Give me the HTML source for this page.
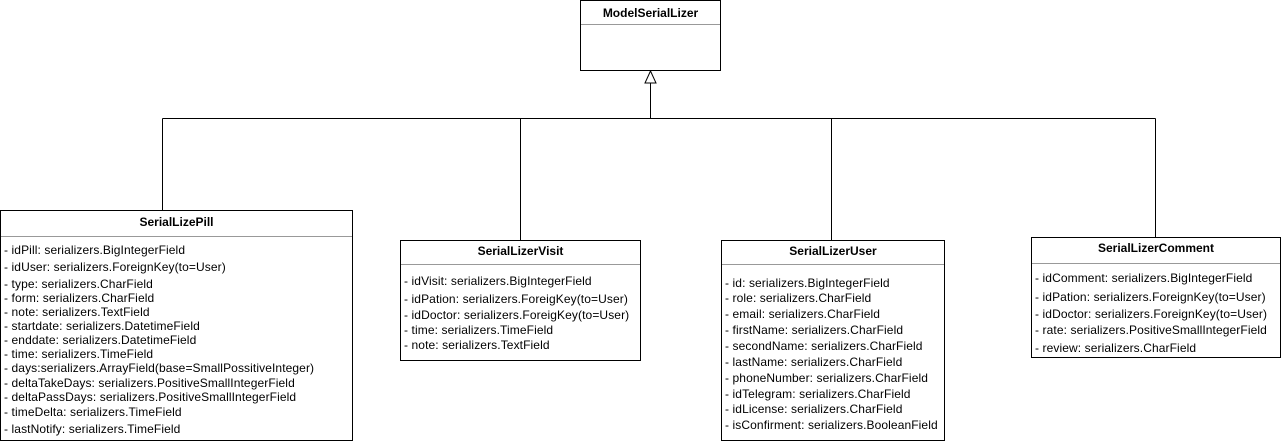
<!DOCTYPE html>
<html><head><meta charset="utf-8"><style>
body{margin:0;width:1281px;height:441px;background:#fff;position:relative;overflow:hidden;font-family:"Liberation Sans",Arial,sans-serif;font-size:12px;color:#000}
.b{position:absolute;border:1px solid #000;box-sizing:border-box;background:#fff}
.h{position:absolute;left:0;right:0;text-align:center;font-weight:bold;font-size:12px}
.s{position:absolute;left:0;right:0;border-top:1px solid #999}
.t{position:absolute;left:3px;white-space:nowrap;line-height:14px;letter-spacing:0.1px}
svg{position:absolute;left:0;top:0}
</style></head><body>
<svg width="1281" height="441">
<g stroke="#000" stroke-width="1" fill="none">
<line x1="650.5" y1="83" x2="650.5" y2="118.5"/>
<line x1="162.5" y1="118.5" x2="1155.5" y2="118.5"/>
<line x1="162.5" y1="118.5" x2="162.5" y2="210"/>
<line x1="520.5" y1="118.5" x2="520.5" y2="240"/>
<line x1="831.5" y1="118.5" x2="831.5" y2="240"/>
<line x1="1155.5" y1="118.5" x2="1155.5" y2="237"/>
<polygon points="650.5,71 645,83 656,83" fill="#fff"/>
</g></svg>

<div class="b" style="left:580px;top:0;width:141px;height:71px">
<div class="h" style="top:5px">ModelSerialLizer</div><div class="s" style="top:23px"></div></div>

<div class="b" style="left:0;top:210px;width:353px;height:231px">
<div class="h" style="top:4px">SerialLizePill</div><div class="s" style="top:25px"></div>
<div class="t" style="top:32px">- idPill: serializers.BigIntegerField</div>
<div class="t" style="top:49px">- idUser: serializers.ForeignKey(to=User)</div>
<div class="t" style="top:66px">- type: serializers.CharField</div>
<div class="t" style="top:80px">- form: serializers.CharField</div>
<div class="t" style="top:94px">- note: serializers.TextField</div>
<div class="t" style="top:108px">- startdate: serializers.DatetimeField</div>
<div class="t" style="top:122px">- enddate: serializers.DatetimeField</div>
<div class="t" style="top:136px">- time: serializers.TimeField</div>
<div class="t" style="top:150px">- days:serializers.ArrayField(base=SmallPossitiveInteger)</div>
<div class="t" style="top:165px">- deltaTakeDays: serializers.PositiveSmallIntegerField</div>
<div class="t" style="top:179px">- deltaPassDays: serializers.PositiveSmallIntegerField</div>
<div class="t" style="top:194px">- timeDelta: serializers.TimeField</div>
<div class="t" style="top:211px">- lastNotify: serializers.TimeField</div>
</div>

<div class="b" style="left:400px;top:240px;width:241px;height:121px">
<div class="h" style="top:3px">SerialLizerVisit</div><div class="s" style="top:23px"></div>
<div class="t" style="top:33px">- idVisit: serializers.BigIntegerField</div>
<div class="t" style="top:51px">- idPation: serializers.ForeigKey(to=User)</div>
<div class="t" style="top:67px">- idDoctor: serializers.ForeigKey(to=User)</div>
<div class="t" style="top:82px">- time: serializers.TimeField</div>
<div class="t" style="top:97px">- note: serializers.TextField</div>
</div>

<div class="b" style="left:721px;top:240px;width:224px;height:201px">
<div class="h" style="top:3px">SerialLizerUser</div><div class="s" style="top:23px"></div>
<div class="t" style="top:35px">- id: serializers.BigIntegerField</div>
<div class="t" style="top:50px">- role: serializers.CharField</div>
<div class="t" style="top:66px">- email: serializers.CharField</div>
<div class="t" style="top:82px">- firstName: serializers.CharField</div>
<div class="t" style="top:98px">- secondName: serializers.CharField</div>
<div class="t" style="top:114px">- lastName: serializers.CharField</div>
<div class="t" style="top:130px">- phoneNumber: serializers.CharField</div>
<div class="t" style="top:146px">- idTelegram: serializers.CharField</div>
<div class="t" style="top:161px">- idLicense: serializers.CharField</div>
<div class="t" style="top:177px">- isConfirment: serializers.BooleanField</div>
</div>

<div class="b" style="left:1031px;top:237px;width:250px;height:121px">
<div class="h" style="top:3px">SerialLizerComment</div><div class="s" style="top:25px"></div>
<div class="t" style="top:33px">- idComment: serializers.BigIntegerField</div>
<div class="t" style="top:52px">- idPation: serializers.ForeignKey(to=User)</div>
<div class="t" style="top:69px">- idDoctor: serializers.ForeignKey(to=User)</div>
<div class="t" style="top:85px">- rate: serializers.PositiveSmallIntegerField</div>
<div class="t" style="top:103px">- review: serializers.CharField</div>
</div>
</body></html>
